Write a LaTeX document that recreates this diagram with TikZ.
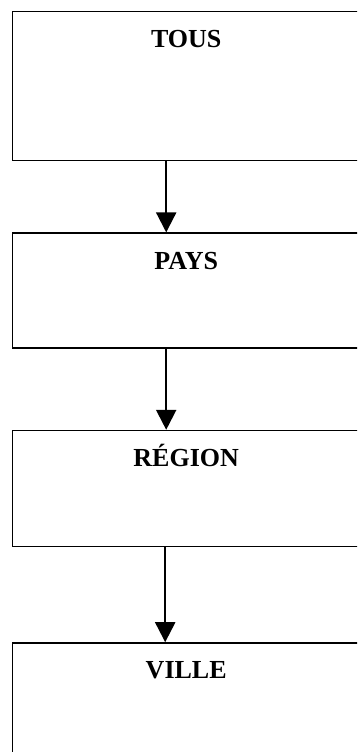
\documentclass[tikz,border=0pt]{standalone}
\usepackage{fontspec}
\setmainfont{Liberation Serif}
\usetikzlibrary{positioning,arrows.meta}

\begin{document}
\begin{tikzpicture}[x=1pt,y=1pt,
    niveau/.style={draw, line width=1.4pt, rectangle, inner sep=0pt,
        minimum width=348pt, text height=36pt,
        font=\fontsize{26}{30}\selectfont\bfseries},
    fleche/.style={-{Triangle[width=20pt,length=20pt]}, line width=2.2pt}]
    \clip (0,0) rectangle (357,-752);
    \useasboundingbox (0,0) rectangle (357,-752);

    % les quatre niveaux
    \node[niveau, text depth=113pt, anchor=north west] (tous) at (11.5,-11) {TOUS};
    \node[niveau, text depth=79pt, below=71pt of tous] (pays) {PAYS};
    \node[niveau, text depth=80pt, below=81pt of pays] (region) {RÉGION};
    \node[niveau, text depth=100pt, below=95pt of region] (ville) {VILLE};

    % les flèches
    \draw[fleche] ([xshift=-20pt]tous.south) -- ([xshift=-20pt]pays.north);
    \draw[fleche] ([xshift=-20pt]pays.south) -- ([xshift=-20pt]region.north);
    \draw[fleche] ([xshift=-21pt]region.south) -- ([xshift=-21pt]ville.north);
\end{tikzpicture}
\end{document}
